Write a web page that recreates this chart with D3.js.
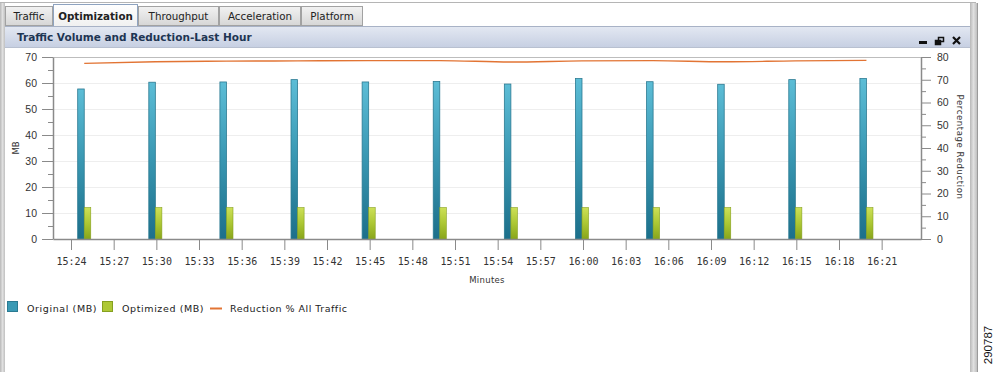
<!DOCTYPE html>
<html><head><meta charset="utf-8">
<script src="https://cdn.jsdelivr.net/npm/d3@7"></script>
<style>body{margin:0;background:#fff;overflow:hidden} svg{display:block}</style>
</head><body>
<svg id="c" width="995" height="372"></svg>
<script>
// ---- data ----
const categories = ["15:25","15:30","15:35","15:40","15:45","15:50","15:55","16:00","16:05","16:10","16:15","16:20"];
const originalMB = [57.7,60.3,60.4,61.3,60.4,60.6,59.6,61.7,60.5,59.5,61.3,61.7];
const optimizedMB = [12.1,12.1,12.1,12.1,12.1,12.1,12.1,12.1,12.1,12.1,12.1,12.1];
const reductionPct = [77.2,77.9,78.2,78.3,78.4,78.4,77.8,78.3,78.4,77.9,78.3,78.5];
const xTickLabels = ["15:24","15:27","15:30","15:33","15:36","15:39","15:42","15:45","15:48","15:51","15:54","15:57","16:00","16:03","16:06","16:09","16:12","16:15","16:18","16:21"];
const yLeftTicks = [0,10,20,30,40,50,60,70];
const yRightTicks = [0,10,20,30,40,50,60,70,80];
const tabs = ["Traffic","Optimization","Throughput","Acceleration","Platform"];
const seriesNames = ["Original (MB)","Optimized (MB)","Reduction % All Traffic"];

const svg = d3.select("#c");
const parse = d3.timeParse("%H:%M");
const defs = svg.append("defs");
function vgrad(id, stops){
  const g = defs.append("linearGradient").attr("id",id).attr("x1",0).attr("y1",0).attr("x2",0).attr("y2",1);
  stops.forEach(s=>g.append("stop").attr("offset",s[0]).attr("stop-color",s[1]));
}
function hgrad(id, stops){
  const g = defs.append("linearGradient").attr("id",id).attr("x1",0).attr("y1",0).attr("x2",1).attr("y2",0);
  stops.forEach(s=>g.append("stop").attr("offset",s[0]).attr("stop-color",s[1]));
}
vgrad("gBlue",[[0,"#5cbdd6"],[0.5,"#3896b1"],[1,"#1c6f8a"]]);
vgrad("gGreen",[[0,"#cde057"],[0.5,"#acc733"],[1,"#88a51b"]]);
vgrad("gTitle",[[0,"#e3e8f2"],[1,"#c6cfe2"]]);
vgrad("gTab",[[0,"#f2f2f2"],[1,"#d6d6d6"]]);
vgrad("gTabA",[[0,"#ffffff"],[1,"#f0f0f0"]]);
hgrad("gFrame",[[0,"#b8b8b8"],[0.5,"#e0e0e0"],[1,"#c0c0c0"]]);

// ---- frame ----
svg.append("rect").attr("x",0).attr("y",0).attr("width",995).attr("height",372).attr("fill","#fff");
svg.append("line").attr("x1",0).attr("x2",976).attr("y1",2.5).attr("y2",2.5).attr("stroke","#b5b5b5");
svg.append("rect").attr("x",0).attr("y",3).attr("width",5).attr("height",369).attr("fill","url(#gFrame)");
svg.append("rect").attr("x",970).attr("y",3).attr("width",7).attr("height",369).attr("fill","url(#gFrame)");
svg.append("line").attr("x1",977.5).attr("x2",977.5).attr("y1",3).attr("y2",372).attr("stroke","#9a9a9a");

// tabs
const tabX = [5,53,138,219,301,363];
tabs.forEach((t,i)=>{
  const active = i===1;
  const x0 = tabX[i]+0.5, w = tabX[i+1]-tabX[i]-1;
  svg.append("rect").attr("x",x0).attr("y",active?4.5:6.5).attr("width",w).attr("height",active?22:19)
    .attr("fill",active?"url(#gTabA)":"url(#gTab)").attr("stroke",active?"#8ea3c0":"#a2a2a2");
  svg.append("text").attr("x",x0+w/2).attr("y",19.5).attr("text-anchor","middle")
    .attr("font-family","DejaVu Sans, Verdana, sans-serif").attr("font-size",10.3)
    .attr("font-weight",active?"bold":"normal").attr("fill","#222").text(t);
});

// title bar
svg.append("rect").attr("x",5).attr("y",26.5).attr("width",965).attr("height",21).attr("fill","url(#gTitle)");
svg.append("line").attr("x1",5).attr("x2",970).attr("y1",26.5).attr("y2",26.5).attr("stroke","#a8b2c6");
svg.append("line").attr("x1",5).attr("x2",970).attr("y1",47.5).attr("y2",47.5).attr("stroke","#b8c0d0");
svg.append("text").attr("x",17).attr("y",41).attr("font-family","DejaVu Sans, Verdana, sans-serif")
  .attr("font-size",10.5).attr("font-weight","bold").attr("fill","#1e3553").text("Traffic Volume and Reduction-Last Hour");
// window icons
svg.append("rect").attr("x",919).attr("y",41).attr("width",8).attr("height",3).attr("fill","#111");
const ic = svg.append("g").attr("fill","none").attr("stroke","#111");
ic.append("rect").attr("x",938.5).attr("y",37.5).attr("width",5).attr("height",4).attr("stroke-width",1.5);
ic.append("rect").attr("x",935.5).attr("y",40.5).attr("width",5).attr("height",4).attr("fill","#111").attr("stroke-width",1.5);
ic.append("path").attr("d","M953,37 L960,44 M960,37 L953,44").attr("stroke-width",2.2);

// ---- chart ----
const L=53, R=921, T=57, B=239;
const x = d3.scaleTime().domain([new Date(1900,0,1,15,22,44), new Date(1900,0,1,16,23,46)]).range([L,R]);
const yL = d3.scaleLinear().domain([0,70]).range([B,T]);
const yR = d3.scaleLinear().domain([0,80]).range([B,T]);

const dates = categories.map(parse);
const tickDates = xTickLabels.map(parse);

// gridlines
svg.append("g").selectAll("line").data(yLeftTicks.slice(1)).join("line")
  .attr("x1",L).attr("x2",R).attr("y1",d=>Math.round(yL(d))+0.5).attr("y2",d=>Math.round(yL(d))+0.5)
  .attr("stroke",d=>d===70?"#bdbdbd":"#eeeeee");

// bars
const pxPerMin = x(new Date(1900,0,1,15,30)) - x(new Date(1900,0,1,15,29));
const bw = pxPerMin*0.46;
const shift = -1;
svg.append("g").selectAll("rect").data(originalMB).join("rect")
  .attr("x",(d,i)=>x(dates[i])+shift-bw).attr("width",bw)
  .attr("y",d=>yL(d)).attr("height",d=>B-yL(d))
  .attr("fill","url(#gBlue)").attr("stroke","#2b7a92").attr("stroke-width",0.8);
svg.append("g").selectAll("rect").data(optimizedMB).join("rect")
  .attr("x",(d,i)=>x(dates[i])+shift).attr("width",bw)
  .attr("y",d=>yL(d)).attr("height",d=>B-yL(d))
  .attr("fill","url(#gGreen)").attr("stroke","#86a020").attr("stroke-width",0.6);

// line
svg.append("path").datum(reductionPct)
  .attr("d",d3.line().x((d,i)=>x(dates[i])+shift).y(d=>yR(d)).curve(d3.curveMonotoneX))
  .attr("fill","none").attr("stroke","#e27434").attr("stroke-width",1.4);

// axes
const axisColor = "#8a8a8a";
function styleAxis(g){
  g.selectAll("path.domain").attr("stroke",axisColor).attr("stroke-width",1.5);
  g.selectAll(".tick line").attr("stroke",axisColor);
  g.selectAll("text").attr("fill","#333");
}
// left
const gl = svg.append("g").attr("transform",`translate(${L},0)`)
  .call(d3.axisLeft(yL).tickValues(yLeftTicks).tickSize(11).tickSizeOuter(0).tickPadding(5));
gl.selectAll("text").attr("font-family","Liberation Sans, Arial, sans-serif").attr("font-size",10.5);
styleAxis(gl);
svg.append("g").attr("transform",`translate(${L},0)`)
  .call(d3.axisLeft(yL).tickValues(yLeftTicks.slice(0,-1).map(v=>v+5)).tickSize(5).tickFormat(""))
  .call(g=>{g.select(".domain").remove(); g.selectAll("line").attr("stroke",axisColor);});
// right
const gr = svg.append("g").attr("transform",`translate(${R},0)`)
  .call(d3.axisRight(yR).tickValues(yRightTicks).tickSize(10).tickSizeOuter(0).tickPadding(6));
gr.selectAll("text").attr("font-family","Liberation Sans, Arial, sans-serif").attr("font-size",10.5);
styleAxis(gr);
svg.append("g").attr("transform",`translate(${R},0)`)
  .call(d3.axisRight(yR).tickValues(yRightTicks.slice(0,-1).map(v=>v+5)).tickSize(5).tickFormat(""))
  .call(g=>{g.select(".domain").remove(); g.selectAll("line").attr("stroke",axisColor);});
// bottom
const gb = svg.append("g").attr("transform",`translate(0,${B})`)
  .call(d3.axisBottom(x).tickValues(tickDates).tickSize(11).tickSizeOuter(0).tickPadding(8)
    .tickFormat((d,i)=>xTickLabels[i]));
gb.selectAll("text").attr("font-family","DejaVu Sans Mono, monospace").attr("font-size",10);
styleAxis(gb);

// axis titles
svg.append("text").attr("transform","translate(19,148) rotate(-90)").attr("text-anchor","middle")
  .attr("font-family","DejaVu Sans, Verdana, sans-serif").attr("font-size",8.5).attr("fill","#333").text("MB");
svg.append("text").attr("transform","translate(957,147) rotate(90)").attr("text-anchor","middle")
  .attr("font-family","DejaVu Sans, Verdana, sans-serif").attr("font-size",8.5).attr("letter-spacing",0.6).attr("fill","#333").text("Percentage Reduction");
svg.append("text").attr("x",487).attr("y",283).attr("text-anchor","middle")
  .attr("font-family","DejaVu Sans, Verdana, sans-serif").attr("font-size",8.5).attr("letter-spacing",0.3).attr("fill","#333").text("Minutes");

// legend
const lf = "DejaVu Sans, Verdana, sans-serif";
const lg = svg.append("g");
lg.append("rect").attr("x",7.5).attr("y",301.5).attr("width",10).attr("height",10).attr("fill","#3a9ab5").attr("stroke","#2a7a92");
lg.append("text").attr("x",27).attr("y",312).attr("font-family",lf).attr("font-size",9.5).attr("letter-spacing",0.6).attr("fill","#222").text(seriesNames[0]);
lg.append("rect").attr("x",102.5).attr("y",301.5).attr("width",10).attr("height",10).attr("fill","#aec836").attr("stroke","#86a020");
lg.append("text").attr("x",122).attr("y",312).attr("font-family",lf).attr("font-size",9.5).attr("letter-spacing",0.6).attr("fill","#222").text(seriesNames[1]);
lg.append("line").attr("x1",210).attr("x2",222).attr("y1",308.5).attr("y2",308.5).attr("stroke","#e27434").attr("stroke-width",2);
lg.append("text").attr("x",230).attr("y",312).attr("font-family",lf).attr("font-size",9.5).attr("letter-spacing",0.5).attr("fill","#222").text(seriesNames[2]);

// figure id
svg.append("text").attr("transform","translate(992,345) rotate(-90)").attr("text-anchor","middle")
  .attr("font-family","Liberation Sans, Arial, sans-serif").attr("font-size",11.5).attr("fill","#111").text("290787");
</script>
</body></html>
